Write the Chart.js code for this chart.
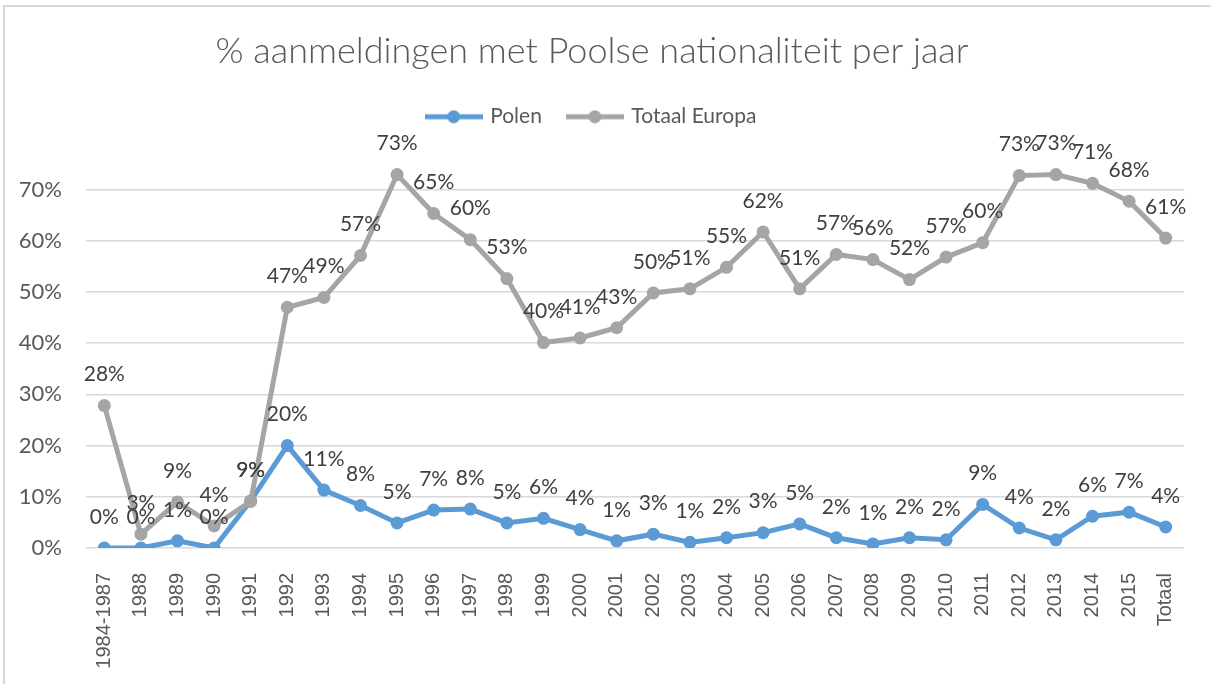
<!DOCTYPE html>
<html lang="nl">
<head>
<meta charset="UTF-8">
<title>% aanmeldingen met Poolse nationaliteit per jaar</title>
<script src="https://cdn.jsdelivr.net/npm/chart.js"></script>
<style>
  html, body { margin: 0; padding: 0; background: #fff; overflow: hidden; }
  .frame { position: absolute; left: 3px; top: 5px; width: 1300px; height: 800px; border: 2px solid #d9d9d9; }
  .chart-box { position: absolute; left: 0; top: 0; width: 1211px; height: 684px; }
</style>
</head>
<body>
<div class="frame"></div>
<div class="chart-box"><canvas id="lineChart"></canvas></div>
<script>
// categories (years) and the two series, as fractions
const years = ['1984-1987', '1988', '1989', '1990', '1991', '1992', '1993', '1994', '1995', '1996',
  '1997', '1998', '1999', '2000', '2001', '2002', '2003', '2004', '2005', '2006', '2007', '2008',
  '2009', '2010', '2011', '2012', '2013', '2014', '2015', 'Totaal'];
const polen = [0, 0, 0.014, 0, 0.092, 0.20, 0.113, 0.083, 0.049, 0.074,
  0.076, 0.049, 0.058, 0.036, 0.014, 0.027, 0.011, 0.02, 0.03, 0.047, 0.02, 0.008,
  0.02, 0.016, 0.085, 0.039, 0.016, 0.062, 0.07, 0.041];
const totaalEuropa = [0.278, 0.027, 0.09, 0.043, 0.091, 0.47, 0.489, 0.571, 0.729, 0.653,
  0.602, 0.526, 0.401, 0.41, 0.43, 0.498, 0.506, 0.548, 0.617, 0.506, 0.573, 0.563,
  0.524, 0.568, 0.596, 0.727, 0.729, 0.712, 0.677, 0.605];
const yTicks = [0, 0.1, 0.2, 0.3, 0.4, 0.5, 0.6, 0.7];

const BLUE = '#5b9bd5';
const GREY = '#a5a5a5';
const TEXT = '#595959';

function pct(v) { return Math.round(v * 100) + '%'; }

// legend marker: short line with a dot, like the Excel legend
function legendMarker(color) {
  const c = document.createElement('canvas');
  c.width = 58; c.height = 14;
  const g = c.getContext('2d');
  g.strokeStyle = color; g.lineWidth = 5;
  g.beginPath(); g.moveTo(0, 7); g.lineTo(58, 7); g.stroke();
  g.fillStyle = color;
  g.beginPath(); g.arc(29, 7, 6.5, 0, Math.PI * 2); g.fill();
  return c;
}

// data labels above every point
const pointLabels = {
  id: 'pointLabels',
  afterDatasetsDraw(chart) {
    const ctx = chart.ctx;
    ctx.save();
    ctx.font = '21px Lato';
    ctx.fillStyle = '#404040';
    ctx.textAlign = 'center';
    ctx.textBaseline = 'middle';
    chart.data.datasets.forEach((ds, i) => {
      const meta = chart.getDatasetMeta(i);
      meta.data.forEach((pt, j) => {
        ctx.fillText(pct(ds.data[j]), pt.x, pt.y - 31);
      });
    });
    ctx.restore();
  }
};

const ctx = document.getElementById('lineChart').getContext('2d');
new Chart(ctx, {
  type: 'line',
  data: {
    labels: years,
    datasets: [
      {
        label: 'Polen',
        data: polen,
        borderColor: BLUE,
        backgroundColor: BLUE,
        borderWidth: 5,
        pointRadius: 6.5,
        pointBorderWidth: 0,
        pointBackgroundColor: BLUE,
        tension: 0,
        order: 1
      },
      {
        label: 'Totaal Europa',
        data: totaalEuropa,
        borderColor: GREY,
        backgroundColor: GREY,
        borderWidth: 5,
        pointRadius: 6.5,
        pointBorderWidth: 0,
        pointBackgroundColor: GREY,
        tension: 0,
        order: 0
      }
    ]
  },
  options: {
    responsive: true,
    maintainAspectRatio: false,
    animation: false,
    layout: { padding: { left: 0, right: 27, top: 0, bottom: 0 } },
    scales: {
      x: {
        offset: true,
        grid: { display: false, offset: true },
        border: { display: false },
        ticks: {
          minRotation: 90,
          maxRotation: 90,
          autoSkip: false,
          padding: 17,
          color: TEXT,
          font: { family: 'Liberation Sans', size: 20 }
        },
        afterFit(scale) { scale.height = 136; }
      },
      y: {
        min: 0,
        max: 0.802,
        border: { display: false },
        grid: { color: '#d9d9d9', lineWidth: 1.5, drawTicks: false },
        afterBuildTicks(scale) {
          scale.ticks = yTicks.map(v => ({ value: v }));
        },
        ticks: {
          padding: 24,
          color: TEXT,
          font: { family: 'Lato', size: 22 },
          callback: v => pct(v)
        },
        afterFit(scale) { scale.width = 86; }
      }
    },
    plugins: {
      title: {
        display: true,
        text: '% aanmeldingen met Poolse nationaliteit per jaar',
        color: TEXT,
        font: { family: 'Lato', size: 36, weight: '300' },
        padding: { top: 30, bottom: 6 }
      },
      legend: {
        display: true,
        labels: {
          usePointStyle: true,
          pointStyleWidth: 52,
          boxHeight: 14,
          padding: 27,
          color: TEXT,
          font: { family: 'Lato', size: 21 },
          generateLabels(chart) {
            return chart.data.datasets.map((ds, i) => ({
              text: ds.label,
              fillStyle: ds.borderColor,
              strokeStyle: ds.borderColor,
              lineWidth: 0,
              pointStyle: legendMarker(ds.borderColor),
              fontColor: TEXT,
              hidden: false,
              datasetIndex: i
            }));
          }
        }
      },
      tooltip: { enabled: false }
    }
  },
  plugins: [pointLabels]
});
</script>
</body>
</html>
